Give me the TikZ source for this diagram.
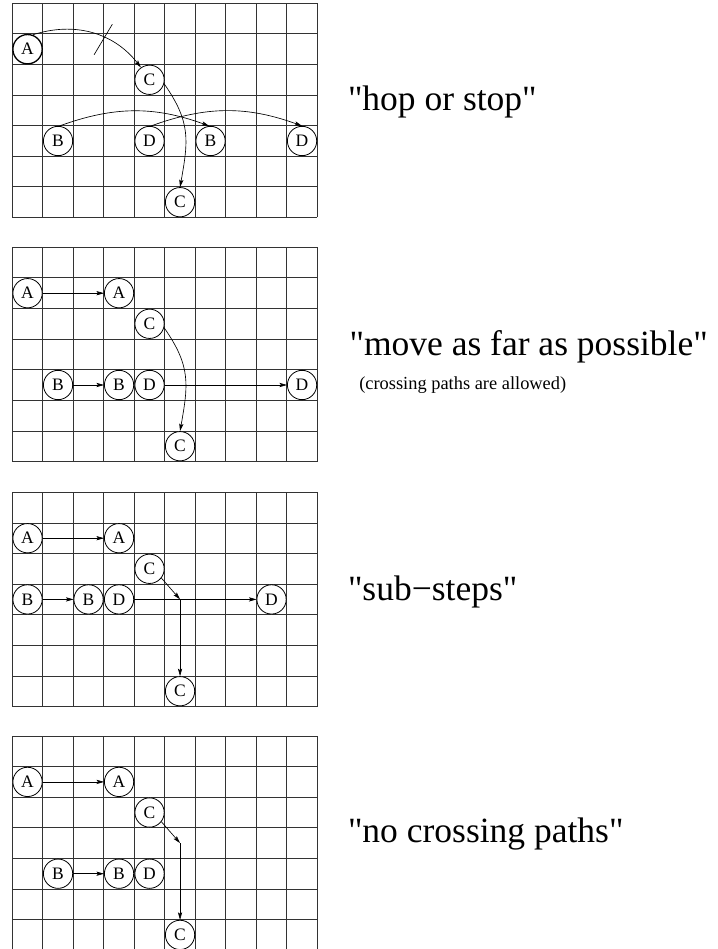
\documentclass[tikz,border=0pt]{standalone}
\usepackage{fontspec}
\setmainfont{Liberation Serif}[Ligatures=TeXOff]
\usetikzlibrary{arrows.meta, calc}

\tikzset{
  cell/.style={x=30.5pt, y=30.6pt},
  board/.style={line width=0.8pt, black!80, step=1},
  piece/.style={draw, circle, fill=white, minimum size=29.3pt, inner sep=0pt,
    line width=0.8pt, font=\fontsize{17.5}{18}\selectfont},
  moved/.style={-{Stealth[length=7.5pt, width=4.2pt, inset=1.5pt]}, line width=0.65pt},
  title/.style={anchor=base west, inner sep=0pt, font=\fontsize{35.5}{36}\selectfont},
  note/.style={anchor=base west, inner sep=0pt, font=\fontsize{18.4}{19}\selectfont},
}

\begin{document}
\begin{tikzpicture}
    \useasboundingbox (0,0) rectangle (717pt,-949pt);

    % hop or stop
    \begin{scope}[cell, shift={(12.3pt,-3.3pt)}]
        \draw[board] (0,0) grid (10,-7);
        \node[piece, line width=1.3pt] (hopA) at (0.5,-1.5) {A};
        \node[piece] (hopC) at (4.5,-2.5) {C};
        \node[piece] (hopB) at (1.5,-4.5) {B};
        \node[piece] (hopD) at (4.5,-4.5) {D};
        \node[piece] (hopBn) at (6.5,-4.5) {B};
        \node[piece] (hopDn) at (9.5,-4.5) {D};
        \node[piece] (hopCn) at (5.5,-6.5) {C};
        \draw[moved] (hopA.70) to[out=18, in=128] coordinate[pos=0.6] (hopStop) (hopC.125);
        \draw[line width=0.65pt] ($(hopStop)+(-0.3,-0.58)$) -- ($(hopStop)+(0.3,0.42)$);
        \draw[moved] (hopC.-15) to[out=-55, in=80, looseness=1.15] (hopCn.90);
        \draw[moved] (hopB.85) to[out=20, in=160] (hopBn.95);
        \draw[moved] (hopD.85) to[out=20, in=160] (hopDn.90);
        \node[title] (hopLbl) at (11,-3.5) {"hop or stop"};
    \end{scope}

    % move as far as possible
    \begin{scope}[cell, shift={(12.3pt,-247.3pt)}]
        \draw[board] (0,0) grid (10,-7);
        \node[piece] (farA) at (0.5,-1.5) {A};
        \node[piece] (farAn) at (3.5,-1.5) {A};
        \node[piece] (farC) at (4.5,-2.5) {C};
        \node[piece] (farB) at (1.5,-4.5) {B};
        \node[piece] (farBn) at (3.5,-4.5) {B};
        \node[piece] (farD) at (4.5,-4.5) {D};
        \node[piece] (farDn) at (9.5,-4.5) {D};
        \node[piece] (farCn) at (5.5,-6.5) {C};
        \draw[moved] (farA) -- (farAn);
        \draw[moved] (farB) -- (farBn);
        \draw[moved] (farD) -- (farDn);
        \draw[moved] (farC.-15) to[out=-55, in=80, looseness=1.15] (farCn.90);
        \node[title] (farLbl) at (11.05,-3.52) {"move as far as possible"};
        \node[note] (farNote) at (11.37,-4.66) {(crossing paths are allowed)};
    \end{scope}

    % sub-steps
    \begin{scope}[cell, shift={(12.3pt,-492.3pt)}]
        \draw[board] (0,0) grid (10,-7);
        \node[piece] (subA) at (0.5,-1.5) {A};
        \node[piece] (subAn) at (3.5,-1.5) {A};
        \node[piece] (subC) at (4.5,-2.5) {C};
        \node[piece] (subB) at (0.5,-3.5) {B};
        \node[piece] (subBn) at (2.5,-3.5) {B};
        \node[piece] (subD) at (3.5,-3.5) {D};
        \node[piece] (subDn) at (8.5,-3.5) {D};
        \node[piece] (subCn) at (5.5,-6.5) {C};
        \coordinate (subMid) at (5.5,-3.5);
        \draw[moved] (subA) -- (subAn);
        \draw[moved] (subB) -- (subBn);
        \draw[moved] (subD) -- (subDn);
        \draw[moved] (subC.-38) -- (subMid);
        \draw[moved] (subMid) -- (subCn);
        \node[title] (subLbl) at (11,-3.52) {"sub−steps"};
    \end{scope}

    % no crossing paths
    \begin{scope}[cell, shift={(12.3pt,-736pt)}]
        \draw[board] (0,0) grid (10,-7);
        \node[piece] (noA) at (0.5,-1.5) {A};
        \node[piece] (noAn) at (3.5,-1.5) {A};
        \node[piece] (noC) at (4.5,-2.5) {C};
        \node[piece] (noB) at (1.5,-4.5) {B};
        \node[piece] (noBn) at (3.5,-4.5) {B};
        \node[piece] (noD) at (4.5,-4.5) {D};
        \node[piece] (noCn) at (5.5,-6.5) {C};
        \coordinate (noMid) at (5.5,-3.5);
        \draw[moved] (noA) -- (noAn);
        \draw[moved] (noB) -- (noBn);
        \draw[moved] (noC.-38) -- (noMid);
        \draw[moved] (noMid) -- (noCn);
        \node[title] (noLbl) at (11,-3.47) {"no crossing paths"};
    \end{scope}
\end{tikzpicture}
\end{document}
